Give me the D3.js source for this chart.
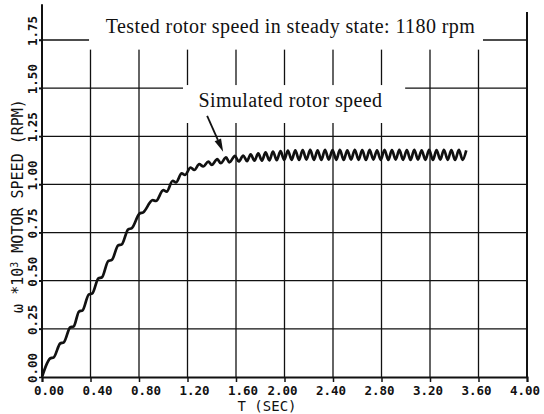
<!DOCTYPE html>
<html>
<head>
<meta charset="utf-8">
<script src="https://cdn.jsdelivr.net/npm/d3@7/dist/d3.min.js"></script>
<style>
  html, body { margin: 0; padding: 0; background: #fff; }
  svg { display: block; }
</style>
</head>
<body>
<svg id="chart" width="544" height="414"></svg>
<script>
// ---- data ----
const timeSec = [
  0.000, 0.067, 0.097, 0.150, 0.180, 0.232, 0.262, 0.305, 0.335, 0.385, 0.415,
  0.465, 0.495, 0.546, 0.576, 0.628, 0.658, 0.711, 0.741, 0.805, 0.835,
  0.913, 0.940, 1.000, 1.028, 1.078, 1.105, 1.152, 1.179, 1.226, 1.256,
  1.297, 1.330, 1.372, 1.400, 1.446, 1.474, 1.518, 1.545, 1.592, 1.622,
  1.660, 1.691, 1.721, 1.752, 1.783, 1.814, 1.844, 1.875, 1.905, 1.936,
  1.967, 1.998, 2.028, 2.059, 2.089, 2.120, 2.150, 2.181, 2.212, 2.243,
  2.273, 2.304, 2.334, 2.365, 2.396, 2.427, 2.457, 2.488, 2.518, 2.549,
  2.580, 2.611, 2.641, 2.672, 2.702, 2.733, 2.763, 2.794, 2.825, 2.856,
  2.886, 2.917, 2.947, 2.978, 3.009, 3.040, 3.070, 3.101, 3.131, 3.162,
  3.193, 3.224, 3.254, 3.285, 3.315, 3.346, 3.376, 3.407, 3.438, 3.469,
  3.499
];
const motorSpeed = [
  0.000, 0.096, 0.102, 0.174, 0.180, 0.257, 0.263, 0.340, 0.346, 0.428, 0.434,
  0.512, 0.518, 0.602, 0.608, 0.683, 0.689, 0.767, 0.773, 0.849, 0.855,
  0.918, 0.914, 0.970, 0.963, 1.019, 1.010, 1.057, 1.049, 1.088, 1.075,
  1.105, 1.093, 1.119, 1.101, 1.131, 1.110, 1.140, 1.115, 1.148, 1.119,
  1.150, 1.121, 1.156, 1.123, 1.161, 1.124, 1.166, 1.125, 1.170, 1.126,
  1.173, 1.127, 1.176, 1.128, 1.177, 1.127, 1.178, 1.129, 1.179, 1.128,
  1.177, 1.127, 1.180, 1.129, 1.178, 1.128, 1.179, 1.127, 1.177, 1.129,
  1.180, 1.128, 1.178, 1.127, 1.179, 1.129, 1.177, 1.128, 1.180, 1.127,
  1.178, 1.129, 1.179, 1.128, 1.178, 1.127, 1.180, 1.129, 1.177, 1.128,
  1.179, 1.127, 1.178, 1.129, 1.180, 1.128, 1.178, 1.127, 1.179, 1.128,
  1.177
];
const xTicks = [0, 0.4, 0.8, 1.2, 1.6, 2.0, 2.4, 2.8, 3.2, 3.6, 4.0];
const yTicks = [0, 0.25, 0.5, 0.75, 1.0, 1.25, 1.5, 1.75];
const titleText = "Tested rotor speed in steady state: 1180 rpm";
const seriesLabel = "Simulated rotor speed";
const xTitle = "T (SEC)";
const yTitleParts = ["\u03c9 *10", "3", " MOTOR SPEED (RPM)"];
// annotation arrow (data units): from -> to
const arrowFrom = [1.362, 1.356];
const arrowTo = [1.494, 1.170];

// ---- scales ----
const svg = d3.select("#chart");
const x = d3.scaleLinear().domain([0, 4]).range([42, 527]);
const y = d3.scaleLinear().domain([0, 1.75]).range([377, 40]);
const ink = "#111";

// grid
const grid = svg.append("g");
grid.selectAll("line.v").data(xTicks.slice(1, -1)).join("line")
  .attr("x1", d => x(d)).attr("x2", d => x(d))
  .attr("y1", y(0)).attr("y2", y(1.75))
  .attr("stroke", ink).attr("stroke-width", 1.3);
grid.selectAll("line.h").data(yTicks.slice(1)).join("line")
  .attr("x1", x(0) - 3).attr("x2", x(4))
  .attr("y1", d => y(d)).attr("y2", d => y(d))
  .attr("stroke", ink).attr("stroke-width", 1.3);

// axes frame
svg.append("line").attr("x1", x(0)).attr("x2", x(0))
  .attr("y1", y(0) + 1).attr("y2", y(1.935))
  .attr("stroke", ink).attr("stroke-width", 2);
svg.append("line").attr("x1", x(4)).attr("x2", x(4))
  .attr("y1", y(0) + 1).attr("y2", y(1.895))
  .attr("stroke", ink).attr("stroke-width", 2);

const xAxis = d3.axisBottom(x).tickValues(xTicks).tickSize(5).tickFormat("");
const gx = svg.append("g").attr("transform", `translate(0,${y(0)})`).call(xAxis);
gx.select(".domain").attr("stroke", ink).attr("stroke-width", 2);
gx.selectAll(".tick line").attr("stroke", ink).attr("stroke-width", 1.5);

const yAxis = d3.axisLeft(y).tickValues(yTicks).tickSize(3).tickFormat("");
const gy = svg.append("g").attr("transform", `translate(${x(0)},0)`).call(yAxis);
gy.select(".domain").remove();
gy.selectAll(".tick line").attr("stroke", ink).attr("stroke-width", 1.5);

// white boxes behind the in-plot texts
svg.append("rect").attr("x", x(0.388)).attr("y", 0)
  .attr("width", x(3.637) - x(0.388)).attr("height", y(1.70))
  .attr("fill", "#fff");
svg.append("rect").attr("x", x(1.163)).attr("y", y(1.516))
  .attr("width", x(2.995) - x(1.163)).attr("height", y(1.319) - y(1.516))
  .attr("fill", "#fff");

// tick labels
const mono = "'DejaVu Sans Mono', monospace";
svg.append("g").selectAll("text").data(xTicks).join("text")
  .attr("x", d => x(d) + (d < 1.8 ? 7 : -2))
  .attr("y", 395)
  .attr("text-anchor", "middle")
  .attr("font-family", mono).attr("font-weight", "bold").attr("font-size", 12.5)
  .attr("fill", ink)
  .text(d => d.toFixed(2));

svg.append("g").selectAll("text").data(yTicks).join("text")
  .attr("transform", d => `translate(37,${y(d) - 9}) rotate(-90)`)
  .attr("text-anchor", "middle")
  .attr("font-family", mono).attr("font-weight", "bold").attr("font-size", 12.5)
  .attr("fill", ink)
  .text(d => d.toFixed(2));

// axis titles
svg.append("text")
  .attr("x", 267).attr("y", 410.5)
  .attr("text-anchor", "middle")
  .attr("font-family", mono).attr("font-size", 14)
  .attr("fill", ink)
  .text(xTitle);

const yt = svg.append("text")
  .attr("transform", "translate(23,206) rotate(-90)")
  .attr("text-anchor", "middle")
  .attr("font-family", mono).attr("font-size", 15)
  .attr("fill", ink);
yt.append("tspan").text(yTitleParts[0]);
yt.append("tspan").attr("dy", -5).attr("font-size", 10).text(yTitleParts[1]);
yt.append("tspan").attr("dy", 5).text(yTitleParts[2]);

// series
const pts = timeSec.map((t, i) => [t, motorSpeed[i]]);
svg.append("path")
  .datum(pts)
  .attr("fill", "none")
  .attr("stroke", ink)
  .attr("stroke-width", 2.7)
  .attr("stroke-linejoin", "round")
  .attr("d", d3.line().x(d => x(d[0])).y(d => y(d[1])).curve(d3.curveMonotoneX));

// texts inside the plot
const serif = "'Liberation Serif', 'Times New Roman', serif";
svg.append("text")
  .attr("x", 290.5).attr("y", 32.5)
  .attr("text-anchor", "middle")
  .attr("font-family", serif).attr("font-size", 20).attr("letter-spacing", 0.4)
  .attr("fill", ink)
  .text(titleText);

svg.append("text")
  .attr("x", 290.5).attr("y", 107)
  .attr("text-anchor", "middle")
  .attr("font-family", serif).attr("font-size", 20).attr("letter-spacing", 0.4)
  .attr("fill", ink)
  .text(seriesLabel);

// arrow
const ax1 = x(arrowFrom[0]), ay1 = y(arrowFrom[1]);
const ax2 = x(arrowTo[0]), ay2 = y(arrowTo[1]);
const ang = Math.atan2(ay2 - ay1, ax2 - ax1);
const hl = 13, hw = 3.5;
const bx = ax2 - hl * Math.cos(ang), by = ay2 - hl * Math.sin(ang);
svg.append("line").attr("x1", ax1).attr("y1", ay1).attr("x2", bx).attr("y2", by)
  .attr("stroke", ink).attr("stroke-width", 1.8);
svg.append("path")
  .attr("d", `M${ax2},${ay2} L${bx + hw * Math.sin(ang)},${by - hw * Math.cos(ang)} L${bx - hw * Math.sin(ang)},${by + hw * Math.cos(ang)} Z`)
  .attr("fill", ink);
</script>
</body>
</html>
